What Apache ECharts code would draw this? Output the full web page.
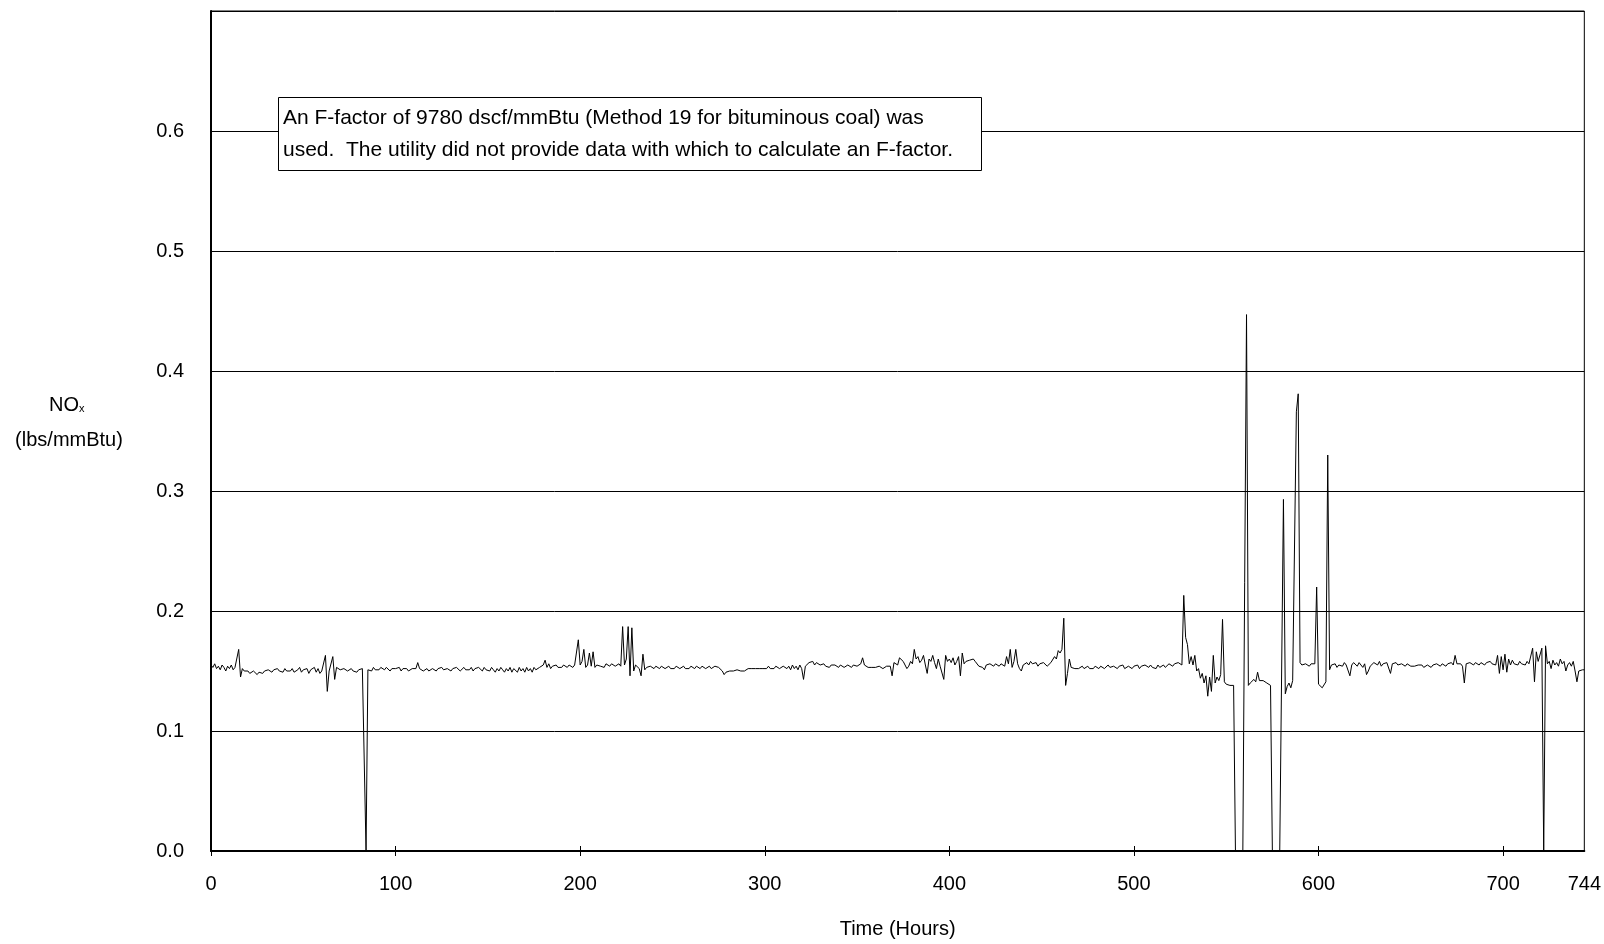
<!DOCTYPE html>
<html>
<head>
<meta charset="utf-8">
<script src="https://cdn.jsdelivr.net/npm/echarts@6/dist/echarts.min.js"></script>
<style>
html,body{margin:0;padding:0;background:#fff;}
#chart{width:1604px;height:944px;}
</style>
</head>
<body>
<div id="chart"></div>
<script>
// NOx emission rate (lbs/mmBtu), hourly; each array starts at the given hour
const nox000 = [ // hours 0-99
0.155,0.153,0.156,0.152,0.154,0.151,0.155,0.153,0.150,0.154,
0.152,0.155,0.151,0.153,0.152,0.168,0.145,0.152,0.150,0.149,
0.150,0.148,0.149,0.150,0.149,0.147,0.149,0.150,0.148,0.150,
0.149,0.151,0.150,0.149,0.151,0.150,0.152,0.150,0.151,0.149,
0.152,0.150,0.151,0.150,0.152,0.149,0.150,0.151,0.153,0.149,
0.151,0.150,0.152,0.148,0.151,0.150,0.153,0.149,0.152,0.148,
0.150,0.151,0.163,0.133,0.150,0.149,0.162,0.143,0.153,0.152,
0.151,0.150,0.152,0.151,0.150,0.151,0.152,0.150,0.151,0.149,
0.151,0.150,0.152,0.151,0.000,0.151,0.152,0.150,0.153,0.151,
0.152,0.151,0.153,0.152,0.151,0.153,0.152,0.150,0.152,0.151];
const nox100 = [ // hours 100-199
0.152,0.151,0.153,0.150,0.152,0.151,0.152,0.150,0.151,0.152,
0.151,0.152,0.157,0.152,0.151,0.150,0.151,0.152,0.150,0.151,
0.152,0.151,0.150,0.152,0.151,0.153,0.151,0.150,0.152,0.151,
0.150,0.152,0.151,0.153,0.152,0.150,0.151,0.153,0.151,0.152,
0.151,0.153,0.150,0.152,0.151,0.153,0.152,0.150,0.153,0.151,
0.152,0.150,0.153,0.151,0.149,0.152,0.150,0.153,0.151,0.149,
0.152,0.150,0.153,0.149,0.152,0.151,0.149,0.153,0.150,0.152,
0.149,0.153,0.150,0.152,0.149,0.153,0.151,0.150,0.153,0.152,
0.155,0.159,0.153,0.156,0.152,0.154,0.153,0.155,0.153,0.154,
0.153,0.155,0.154,0.153,0.155,0.154,0.153,0.155,0.154,0.176];
const nox200 = [ // hours 200-299
0.155,0.158,0.168,0.153,0.155,0.165,0.154,0.166,0.153,0.155,
0.156,0.154,0.155,0.153,0.156,0.155,0.154,0.156,0.155,0.154,
0.155,0.156,0.154,0.187,0.155,0.160,0.187,0.146,0.186,0.150,
0.155,0.154,0.152,0.146,0.164,0.151,0.153,0.152,0.154,0.153,
0.152,0.154,0.153,0.152,0.154,0.153,0.152,0.153,0.154,0.152,
0.153,0.152,0.154,0.153,0.152,0.153,0.154,0.152,0.153,0.152,
0.154,0.153,0.152,0.154,0.153,0.152,0.154,0.153,0.152,0.153,
0.154,0.152,0.153,0.154,0.155,0.153,0.152,0.150,0.147,0.149,
0.148,0.150,0.149,0.150,0.149,0.151,0.150,0.150,0.151,0.150,
0.151,0.152,0.151,0.152,0.151,0.152,0.151,0.152,0.153,0.152];
const nox300 = [ // hours 300-399
0.153,0.152,0.154,0.152,0.153,0.152,0.154,0.153,0.152,0.153,
0.154,0.153,0.152,0.154,0.151,0.155,0.152,0.154,0.151,0.155,
0.152,0.143,0.154,0.155,0.157,0.156,0.158,0.155,0.157,0.156,
0.155,0.154,0.156,0.154,0.155,0.153,0.155,0.154,0.155,0.154,
0.153,0.155,0.154,0.153,0.154,0.155,0.154,0.153,0.155,0.154,
0.154,0.155,0.156,0.161,0.155,0.154,0.153,0.154,0.153,0.152,
0.153,0.152,0.154,0.153,0.152,0.153,0.154,0.155,0.154,0.146,
0.157,0.158,0.155,0.161,0.160,0.158,0.157,0.152,0.154,0.158,
0.156,0.168,0.160,0.162,0.157,0.159,0.163,0.155,0.148,0.160,
0.158,0.163,0.157,0.152,0.160,0.154,0.155,0.143,0.163,0.158];
const nox400 = [ // hours 400-499
0.160,0.157,0.161,0.155,0.158,0.162,0.146,0.165,0.156,0.158,
0.157,0.159,0.158,0.160,0.158,0.157,0.154,0.155,0.153,0.151,
0.155,0.154,0.156,0.155,0.154,0.156,0.155,0.154,0.156,0.155,
0.154,0.162,0.156,0.168,0.153,0.158,0.168,0.156,0.152,0.150,
0.155,0.156,0.157,0.155,0.158,0.156,0.155,0.157,0.154,0.156,
0.155,0.157,0.156,0.154,0.155,0.157,0.156,0.162,0.160,0.167,
0.165,0.168,0.194,0.138,0.148,0.160,0.153,0.154,0.152,0.153,
0.152,0.153,0.154,0.152,0.153,0.154,0.152,0.153,0.152,0.154,
0.153,0.152,0.154,0.153,0.152,0.153,0.155,0.153,0.152,0.154,
0.153,0.152,0.154,0.153,0.155,0.152,0.153,0.154,0.153,0.152];
const nox500 = [ // hours 500-599
0.154,0.153,0.155,0.152,0.154,0.153,0.155,0.154,0.153,0.155,
0.153,0.154,0.152,0.155,0.153,0.154,0.155,0.153,0.154,0.156,
0.155,0.154,0.156,0.155,0.157,0.156,0.155,0.213,0.178,0.172,
0.156,0.162,0.155,0.163,0.150,0.152,0.144,0.148,0.140,0.146,
0.129,0.145,0.133,0.163,0.140,0.145,0.142,0.147,0.193,0.141,
0.139,0.140,0.138,0.139,0.138,0.000,0.000,0.000,0.000,0.000,
0.000,0.447,0.138,0.140,0.139,0.143,0.141,0.149,0.142,0.143,
0.142,0.141,0.140,0.139,0.138,0.000,0.000,0.000,0.000,0.000,
0.000,0.293,0.131,0.137,0.140,0.136,0.142,0.141,0.366,0.381,
0.157,0.155,0.154,0.156,0.155,0.154,0.156,0.155,0.156,0.220];
const nox600 = [ // hours 600-699
0.139,0.138,0.136,0.137,0.141,0.330,0.151,0.155,0.154,0.156,
0.153,0.155,0.156,0.154,0.157,0.155,0.154,0.146,0.155,0.157,
0.156,0.154,0.157,0.155,0.153,0.156,0.147,0.150,0.154,0.155,
0.157,0.156,0.155,0.158,0.154,0.156,0.155,0.157,0.156,0.148,
0.156,0.155,0.157,0.155,0.154,0.156,0.155,0.154,0.156,0.155,
0.154,0.155,0.154,0.153,0.155,0.154,0.155,0.153,0.154,0.155,
0.154,0.153,0.155,0.154,0.156,0.155,0.154,0.156,0.155,0.154,
0.156,0.155,0.157,0.155,0.163,0.156,0.155,0.156,0.154,0.140,
0.156,0.155,0.157,0.156,0.155,0.157,0.156,0.155,0.157,0.156,
0.155,0.157,0.156,0.158,0.156,0.157,0.155,0.163,0.148,0.162];
const nox700 = [ // hours 700-744
0.151,0.164,0.149,0.160,0.155,0.159,0.156,0.157,0.155,0.158,
0.156,0.157,0.155,0.158,0.156,0.157,0.169,0.141,0.166,0.158,
0.157,0.169,0.000,0.171,0.156,0.158,0.152,0.159,0.155,0.157,
0.154,0.160,0.156,0.158,0.150,0.155,0.157,0.154,0.158,0.150,
0.141,0.150,0.149,0.151,0.151];

const segments = [[0, nox000],[100, nox100],[200, nox200],[300, nox300],
                  [400, nox400],[500, nox500],[600, nox600],[700, nox700]];
const xTickLabels = [0,100,200,300,400,500,600,700,744];
const xTicks = [0,100,200,300,400,500,600,700];
const yTicks = [0,0.1,0.2,0.3,0.4,0.5,0.6];

const seriesData = [];
segments.forEach(([start, arr]) => arr.forEach((v, j) => seriesData.push([start + j, v])));

const FONT = '"Liberation Sans", Arial, sans-serif';
const chart = echarts.init(document.getElementById('chart'), null, {renderer:'canvas'});
chart.setOption({
  animation: false,
  backgroundColor: '#fff',
  grid: {left: 211, right: 16, top: 11, bottom: 93, show: true, borderColor: '#000', borderWidth: 1, backgroundColor: 'transparent'},
  xAxis: [{
    type: 'value', min: 0, max: 744, interval: 100,
    axisLine: {show: true, lineStyle: {color: '#000', width: 2}},
    axisTick: {show: true, inside: false, length: 5, customValues: xTicks, lineStyle: {color: '#000', width: 1}},
    axisLabel: {show: true, customValues: xTickLabels, color: '#000', fontSize: 20, fontFamily: FONT, margin: 23},
    splitLine: {show: false},
    name: 'Time (Hours)', nameLocation: 'middle', nameGap: 68,
    nameTextStyle: {color: '#000', fontSize: 20, fontFamily: FONT}
  },{
    type: 'value', min: 0, max: 744, position: 'bottom',
    axisLine: {show: false},
    axisTick: {show: true, inside: true, length: 5, customValues: xTicks.slice(1), lineStyle: {color: '#000', width: 1}},
    axisLabel: {show: false}, splitLine: {show: false}
  }],
  yAxis: {
    type: 'value', min: 0, max: 0.7, interval: 0.1,
    axisLine: {show: true, lineStyle: {color: '#000', width: 2}},
    axisTick: {show: false},
    axisLabel: {customValues: yTicks, color: '#000', fontSize: 20, fontFamily: FONT, margin: 27,
      formatter: v => v.toFixed(1)},
    splitLine: {show: true, lineStyle: {color: '#000', width: 1}}
  },
  graphic: [
    {type:'text', x: 79, y: 415, style:{text:'NO', fill:'#000', font:'20px ' + FONT, align:'right', verticalAlign:'bottom'}},
    {type:'text', x: 79, y: 414, style:{text:'x', fill:'#000', font:'11px ' + FONT, align:'left', verticalAlign:'bottom'}},
    {type:'text', x: 69, y: 440, style:{text:'(lbs/mmBtu)', fill:'#000', font:'20px ' + FONT, align:'center', verticalAlign:'middle'}},
    {type:'rect', z: 100, shape:{x: 278.5, y: 97.5, width: 703, height: 73}, style:{fill:'#fff', stroke:'#000', lineWidth:1}},
    {type:'text', z: 101, x: 283, y: 118, style:{text:'An F-factor of 9780 dscf/mmBtu (Method 19 for bituminous coal) was', fill:'#000', font:'21px ' + FONT, align:'left', verticalAlign:'middle'}},
    {type:'text', z: 101, x: 283, y: 150, style:{text:'used.  The utility did not provide data with which to calculate an F-factor.', fill:'#000', font:'21px ' + FONT, align:'left', verticalAlign:'middle'}}
  ],
  series: [{
    type: 'line', data: seriesData, showSymbol: false, symbol: 'none',
    lineStyle: {color: '#000', width: 1}, z: 5
  }]
});
</script>
</body>
</html>
